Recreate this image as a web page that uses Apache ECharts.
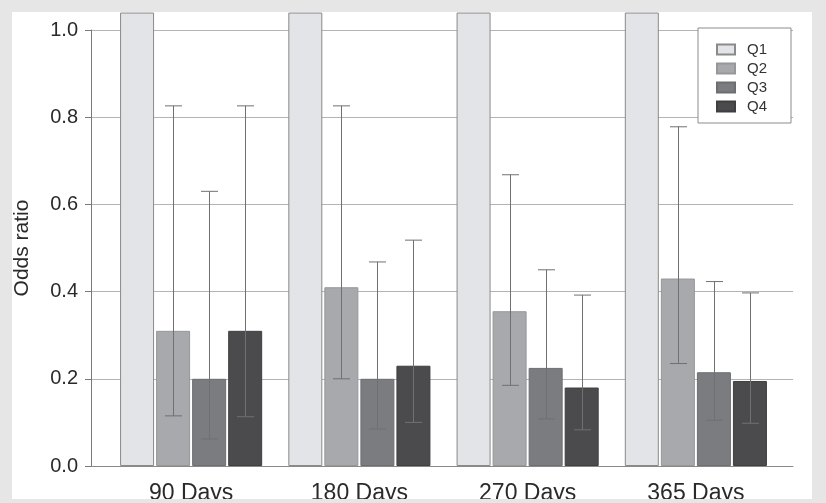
<!DOCTYPE html>
<html>
<head>
<meta charset="utf-8">
<script src="https://cdn.jsdelivr.net/npm/echarts@6/dist/echarts.min.js"></script>
<style>
  html, body { margin: 0; padding: 0; }
  #wrap { position: relative; width: 826px; height: 503px; background: #e6e6e6; overflow: hidden; }
  #panel { position: absolute; left: 12px; top: 12px; width: 800px; height: 487px; background: #ffffff; }
  #chart { position: absolute; left: 0; top: 0; width: 826px; height: 499px; }
</style>
</head>
<body>
<div id="wrap"><div id="panel"></div><div id="chart"></div></div>
<script>
const categories = ['90 Days', '180 Days', '270 Days', '365 Days'];
const seriesNames = ['Q1', 'Q2', 'Q3', 'Q4'];
const q1 = [1.04, 1.04, 1.04, 1.04];
const q2 = [0.31, 0.41, 0.355, 0.43];
const q3 = [0.20, 0.20, 0.225, 0.215];
const q4 = [0.31, 0.23, 0.18, 0.195];
const q2Low = [0.115, 0.20, 0.185, 0.235];
const q2High = [0.826, 0.826, 0.668, 0.778];
const q3Low = [0.062, 0.085, 0.108, 0.105];
const q3High = [0.63, 0.468, 0.45, 0.423];
const q4Low = [0.113, 0.10, 0.083, 0.098];
const q4High = [0.826, 0.518, 0.392, 0.397];
const yTickLabels = ['0.0', '0.2', '0.4', '0.6', '0.8', '1.0'];

const colors = ['#e2e4e7', '#a7a9ac', '#7a7c7f', '#4b4b4e'];
const borders = ['#8a8a8a', '#959799', '#6c6e71', '#3f3f42'];
const FONT = "'Liberation Sans', Arial, Helvetica, sans-serif";

// error bar data: [category index, low, high, series index]
const errData = [];
[[q2Low, q2High, 1], [q3Low, q3High, 2], [q4Low, q4High, 3]].forEach(([lo, hi, s]) => {
  categories.forEach((c, i) => errData.push([i, lo[i], hi[i], s]));
});
const barOffsets = [-54.06, -18.02, 18.02, 54.06];

const chart = echarts.init(document.getElementById('chart'), null, { renderer: 'canvas' });
const barSeries = [q1, q2, q3, q4].map((d, k) => ({
  name: seriesNames[k],
  type: 'bar',
  xAxisIndex: 1,
  yAxisIndex: 1,
  data: d,
  barWidth: 34,
  barGap: '6%',
  clip: false,
  itemStyle: { color: colors[k], borderColor: borders[k], borderWidth: 1 },
  emphasis: { disabled: true },
  z: 2
}));

const option = {
  animation: false,
  textStyle: { fontFamily: FONT },
  legend: {
    orient: 'vertical',
    left: 698,
    top: 28,
    data: seriesNames,
    itemWidth: 18,
    itemHeight: 10,
    itemGap: 4,
    padding: [14, 24, 9, 18],
    backgroundColor: '#ffffff',
    borderColor: '#8c8c8c',
    borderWidth: 1,
    icon: 'rect',
    textStyle: { fontSize: 15, color: '#333', fontFamily: FONT, padding: [0, 0, 0, 7] },
    z: 10
  },
  grid: [
    { left: 91, top: 30, width: 702, height: 436, outerBoundsMode: 'none', containLabel: false },
    { left: 107, top: 30, width: 673, height: 436, outerBoundsMode: 'none', containLabel: false }
  ],
  xAxis: [
    {
      gridIndex: 0, type: 'value', min: 0, max: 1,
      axisLine: { show: true, lineStyle: { color: '#8a8a8a', width: 1 } },
      axisTick: { show: false }, axisLabel: { show: false }, splitLine: { show: false }
    },
    {
      gridIndex: 1, type: 'category', data: categories,
      axisLine: { show: false }, axisTick: { show: false },
      axisLabel: { fontSize: 23, color: '#2a2a2a', margin: 16, fontFamily: FONT },
      splitLine: { show: false }
    }
  ],
  yAxis: [
    {
      gridIndex: 0, type: 'value', min: 0, max: 1, interval: 0.2,
      name: 'Odds ratio', nameLocation: 'middle', nameRotate: 90, nameGap: 58,
      nameTextStyle: { fontSize: 21, color: '#2a2a2a', fontFamily: FONT },
      axisLine: { show: true, lineStyle: { color: '#7a7a7a', width: 1 } },
      axisTick: { show: true, length: 6, lineStyle: { color: '#7a7a7a' } },
      axisLabel: {
        fontSize: 20, color: '#2a2a2a', margin: 13, fontFamily: FONT,
        formatter: (v) => yTickLabels[Math.round(v / 0.2)]
      },
      splitLine: { show: true, lineStyle: { color: '#b4b4b4', width: 1 } }
    },
    {
      gridIndex: 1, type: 'value', min: 0, max: 1, show: false, splitLine: { show: false }
    }
  ],
  series: barSeries.concat([{
    type: 'custom',
    xAxisIndex: 1,
    yAxisIndex: 1,
    data: errData,
    z: 5,
    silent: true,
    renderItem: function (params, api) {
      const i = api.value(0);
      const lo = api.coord([i, api.value(1)]);
      const hi = api.coord([i, api.value(2)]);
      const x = Math.round(lo[0] + barOffsets[api.value(3)]) + 0.5;
      const half = 8.5;
      const st = { stroke: '#707070', lineWidth: 1 };
      return {
        type: 'group',
        children: [
          { type: 'line', shape: { x1: x, y1: lo[1], x2: x, y2: hi[1] }, style: st },
          { type: 'line', shape: { x1: x - half, y1: hi[1], x2: x + half, y2: hi[1] }, style: st },
          { type: 'line', shape: { x1: x - half, y1: lo[1], x2: x + half, y2: lo[1] }, style: st }
        ]
      };
    }
  }])
};
chart.setOption(option);
</script>
</body>
</html>
